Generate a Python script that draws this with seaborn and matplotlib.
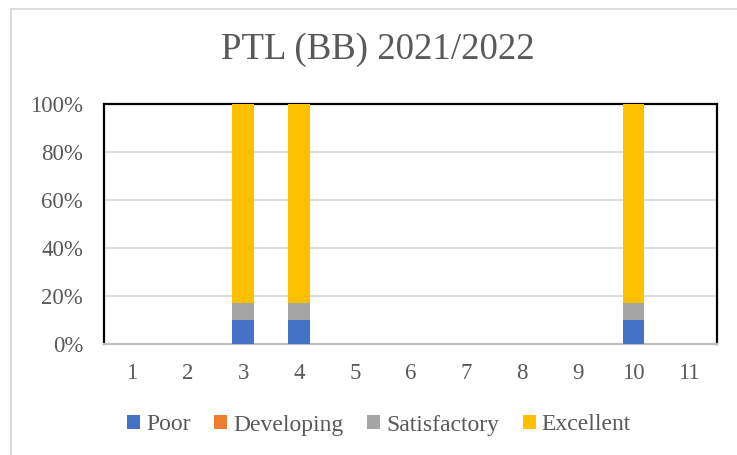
import matplotlib
matplotlib.use("Agg")
import matplotlib.pyplot as plt
import seaborn as sns
import pandas as pd
import numpy as np
from matplotlib.patches import Patch
from matplotlib.lines import Line2D
from matplotlib.font_manager import FontProperties

categories = ["1", "2", "3", "4", "5", "6", "7", "8", "9", "10", "11"]
poor = [0, 0, 10, 10, 0, 0, 0, 0, 0, 10, 0]
developing = [0, 0, 0, 0, 0, 0, 0, 0, 0, 0, 0]
satisfactory = [0, 0, 7, 7, 0, 0, 0, 0, 0, 7, 0]
excellent = [0, 0, 83, 83, 0, 0, 0, 0, 0, 83, 0]
series_names = ["Poor", "Developing", "Satisfactory", "Excellent"]
colors = ["#4472C4", "#ED7D31", "#A5A5A5", "#FFC000"]
title = "PTL (BB) 2021/2022"
ytick_labels = ["0%", "20%", "40%", "60%", "80%", "100%"]

sns.set_theme(style="white")
plt.rcParams["font.family"] = ["Liberation Serif", "DejaVu Serif"]
text_color = "#595959"

df = pd.DataFrame({"cat": categories, "Poor": poor, "Developing": developing,
                   "Satisfactory": satisfactory, "Excellent": excellent})
cum = df[series_names].cumsum(axis=1)

fig = plt.figure(figsize=(7.37, 4.55), dpi=100)
ax = fig.add_axes([104/737, 1-344/455, (717-104)/737, (344-104)/455])

# draw cumulative totals from top series down so stacks appear
for name, col in reversed(list(zip(series_names, colors))):
    sns.barplot(data=pd.DataFrame({"cat": categories, "v": cum[name]}),
                x="cat", y="v", order=categories, color=col, saturation=1,
                width=0.39, errorbar=None, ax=ax, zorder=3, linewidth=0)

ax.set_ylim(0, 100)
ax.set_xlim(-0.5, len(categories)-0.5)
ax.set_yticks([0, 20, 40, 60, 80, 100])
ax.set_yticklabels(ytick_labels)
ax.set_xlabel("")
ax.set_ylabel("")
for y in [20, 40, 60, 80]:
    ax.axhline(y, color="#D9D9D9", lw=1.3, zorder=1)
ax.tick_params(axis="both", length=0, labelsize=16.5, labelcolor=text_color)
ax.tick_params(axis="y", pad=15)
ax.tick_params(axis="x", pad=14)
for s in ["left", "top", "right"]:
    ax.spines[s].set_color("black")
    ax.spines[s].set_linewidth(1.6)
    ax.spines[s].set_visible(True)
ax.spines["bottom"].set_color("#BFBFBF")
ax.spines["bottom"].set_linewidth(1.6)
ax.spines["bottom"].set_visible(True)

fig.text(378/737, 1-50/455, title, ha="center", va="center", fontsize=26.6, color=text_color)

handles = [Patch(facecolor=c, edgecolor="none") for c in colors]
legend_font = FontProperties(family="Liberation Serif", size=17)
leg = fig.legend(handles, series_names, loc="center", bbox_to_anchor=(379/737, 1-425/455),
                 ncol=4, frameon=False, prop=legend_font,
                 handlelength=0.55, handleheight=0.55, handletextpad=0.25, columnspacing=1.0)
for t in leg.get_texts():
    t.set_fontfamily("Liberation Serif")
    t.set_color(text_color)

# chart area border
fig.add_artist(Line2D([10.5/737, 10.5/737], [0, 1-8.5/455], transform=fig.transFigure, color="#D9D9D9", lw=1.3))
fig.add_artist(Line2D([10.5/737, 1], [1-8.5/455, 1-8.5/455], transform=fig.transFigure, color="#D9D9D9", lw=1.3))

fig.savefig("out.png", dpi=100)
